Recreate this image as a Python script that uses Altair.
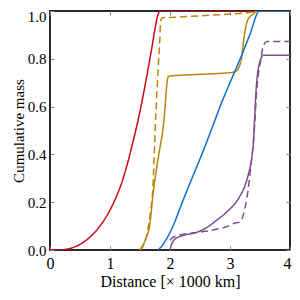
import altair as alt
import pandas as pd

# ---- data ----
red_x = [0.0, 0.15, 0.20, 0.40, 0.60, 0.80, 1.00, 1.10, 1.20, 1.30, 1.40, 1.50, 1.60, 1.70, 1.76, 1.80, 1.83, 4.0]
red_y = [0.0, 0.0, 0.001, 0.012, 0.04, 0.09, 0.167, 0.22, 0.285, 0.37, 0.47, 0.58, 0.71, 0.85, 0.94, 0.985, 1.0, 1.0]

gold_dash_x = [1.50, 1.56, 1.60, 1.64, 1.68, 1.71, 1.735, 1.755, 1.77, 1.80, 1.83, 1.845, 1.87, 2.10, 2.50, 2.94, 3.39, 3.45, 4.0]
gold_dash_y = [0.0, 0.02, 0.05, 0.10, 0.17, 0.24, 0.38, 0.52, 0.60, 0.75, 0.88, 0.96, 0.972, 0.974, 0.98, 0.986, 0.996, 1.0, 1.0]

gold_x = [1.49, 1.55, 1.60, 1.66, 1.72, 1.80, 1.89, 1.97, 2.00, 2.50, 3.03, 3.11, 3.19, 3.23, 3.28, 3.33, 3.39, 3.45, 4.0]
gold_y = [0.0, 0.02, 0.05, 0.10, 0.24, 0.38, 0.52, 0.725, 0.728, 0.735, 0.743, 0.75, 0.80, 0.882, 0.951, 0.975, 0.988, 1.0, 1.0]

blue_x = [1.80, 1.86, 1.95, 2.05, 2.19, 2.35, 2.53, 2.70, 2.85, 3.00, 3.17, 3.33, 3.49, 4.0]
blue_y = [0.0, 0.015, 0.05, 0.10, 0.19, 0.29, 0.40, 0.51, 0.61, 0.70, 0.80, 0.90, 1.0, 1.0]

purple_dash_x = [2.00, 2.03, 2.17, 2.40, 2.56, 2.83, 2.94, 3.06, 3.17, 3.22, 3.28, 3.33, 3.36, 3.39, 3.41, 3.44, 3.48, 3.51, 3.54, 3.58, 3.62, 4.0]
purple_dash_y = [0.04, 0.05, 0.063, 0.072, 0.077, 0.09, 0.097, 0.111, 0.118, 0.146, 0.216, 0.31, 0.38, 0.45, 0.52, 0.65, 0.75, 0.79, 0.84, 0.865, 0.872, 0.872]

purple_x = [2.00, 2.02, 2.06, 2.15, 2.25, 2.39, 2.55, 2.78, 2.95, 3.14, 3.25, 3.31, 3.36, 3.39, 3.405, 3.43, 3.46, 3.49, 3.52, 3.56, 4.0]
purple_y = [0.0, 0.02, 0.04, 0.055, 0.063, 0.07, 0.085, 0.125, 0.16, 0.215, 0.27, 0.32, 0.382, 0.45, 0.52, 0.65, 0.74, 0.78, 0.805, 0.815, 0.815]

names = ["red", "gold_dash", "gold", "blue", "purple_dash", "purple"]
colors = ["#cc0a14", "#b8860b", "#b8860b", "#0a6fd6", "#7e4f8e", "#7e4f8e"]
dashes = [[1, 0], [7, 4], [1, 0], [1, 0], [7, 4], [1, 0]]

x_ticks = [0, 1, 2, 3, 4]
y_ticks = [0.0, 0.2, 0.4, 0.6, 0.8, 1.0]

series = [
    ("red", red_x, red_y),
    ("gold_dash", gold_dash_x, gold_dash_y),
    ("gold", gold_x, gold_y),
    ("blue", blue_x, blue_y),
    ("purple_dash", purple_dash_x, purple_dash_y),
    ("purple", purple_x, purple_y),
]
rows = []
for name, xs, ys in series:
    for i, (xv, yv) in enumerate(zip(xs, ys)):
        rows.append({"series": name, "x": xv, "y": yv, "order": i})
df = pd.DataFrame(rows)

FONT = "Liberation Serif"
xscale = alt.Scale(domain=[0, 4], nice=False, zero=False)
yscale = alt.Scale(domain=[0, 1], nice=False, zero=False)

tick_axis = dict(domain=False, grid=False, tickSize=4, offset=-4, tickColor="#888888",
                 tickWidth=1, labelFont=FONT, labelColor="#000000")
title_axis = dict(titleFont=FONT, titleFontWeight="normal", titleColor="#000000")

enc_common = dict(
    color=alt.Color("series:N", scale=alt.Scale(domain=names, range=colors), legend=None),
    strokeDash=alt.StrokeDash("series:N", scale=alt.Scale(domain=names, range=dashes), legend=None),
    order=alt.Order("order:Q"),
)

main = alt.Chart(df).mark_line(strokeWidth=1.5, clip=True, interpolate="monotone").encode(
    x=alt.X("x:Q", scale=xscale, axis=alt.Axis(orient="bottom", values=x_ticks, format="d",
            title="Distance [× 1000 km]", labelPadding=5, labelFlush=False, titlePadding=2,
            labelFontSize=16, titleFontSize=16,
            labelOffset=alt.expr("datum.value == 4 ? -3 : 0"),
            **tick_axis, **title_axis)),
    y=alt.Y("y:Q", scale=yscale, axis=alt.Axis(orient="left", values=y_ticks, format=".1f",
            title="Cumulative mass", labelPadding=4, titlePadding=1,
            labelFontSize=15, titleFontSize=15,
            labelOffset=alt.expr("datum.value == 1 ? 5 : 0"),
            **tick_axis, **title_axis)),
    **enc_common,
)

sec = alt.Chart(df).mark_line(strokeWidth=1.5, opacity=0).encode(
    x=alt.X("x:Q", scale=xscale, axis=alt.Axis(orient="top", values=x_ticks, labels=False, title=None, **tick_axis)),
    y=alt.Y("y:Q", scale=yscale, axis=alt.Axis(orient="right", values=y_ticks, labels=False, title=None, **tick_axis)),
    **enc_common,
)

chart = alt.layer(main, sec).resolve_axis(x="independent", y="independent").properties(
    width=240, height=239,
    autosize=alt.AutoSizeParams(type="none"),
    padding={"left": 42, "top": 3, "right": 2, "bottom": 42},
).configure_view(stroke="#2a2a2a", strokeWidth=2)

chart.save("out.html", embed_options={"renderer": "svg", "actions": False})
